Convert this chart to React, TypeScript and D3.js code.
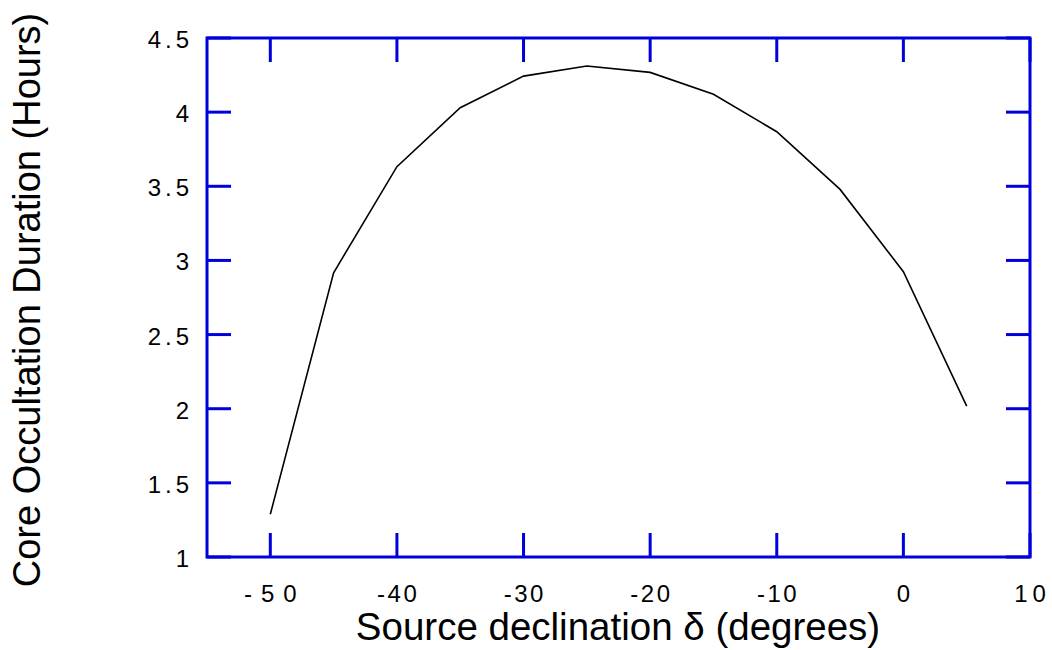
import React from "react";
import * as d3 from "d3";

const declinations = [-50, -45, -40, -35, -30, -25, -20, -15, -10, -5, 0, 5];
const durations = [1.288, 2.917, 3.632, 4.03, 4.243, 4.311, 4.268, 4.12, 3.868, 3.479, 2.924, 2.018];
const xTicks = [-50, -40, -30, -20, -10, 0, 10];
const xTickLabels = ["-50", "-40", "-30", "-20", "-10", "0", "10"];
const yTicks = [1, 1.5, 2, 2.5, 3, 3.5, 4, 4.5];
const yTickLabels = ["1", "1.5", "2", "2.5", "3", "3.5", "4", "4.5"];

const W = 1052;
const H = 650;
const left = 207, right = 1030, top = 38, bottom = 557;
const axisColor = "#0000DC";
const font = "'Liberation Sans', Arial, Helvetica, sans-serif";

export default function App() {
  const x = d3.scaleLinear().domain([-55, 10]).range([left, right]);
  const y = d3.scaleLinear().domain([1, 4.5]).range([bottom, top]);
  const line = d3
    .line<number>()
    .x((_, i) => x(declinations[i]))
    .y((d) => y(d));
  const tickLen = 24;
  const yls = 4;
  return (
    <svg
      width={W}
      height={H}
      style={{ position: "absolute", left: 0, top: 0, background: "#fff" }}
      fontFamily={font}
    >
      <rect x={0} y={0} width={W} height={H} fill="#fff" />
      <path d={line(durations) || ""} fill="none" stroke="#000" strokeWidth={1.6} />
      {/* frame */}
      <rect x={left} y={top} width={right - left} height={bottom - top} fill="none" stroke={axisColor} strokeWidth={3} />
      {/* y ticks */}
      {yTicks.map((t) => (
        <g key={"y" + t}>
          <line x1={left} x2={left + tickLen} y1={y(t)} y2={y(t)} stroke={axisColor} strokeWidth={3} />
          <line x1={right} x2={right - tickLen} y1={y(t)} y2={y(t)} stroke={axisColor} strokeWidth={3} />
        </g>
      ))}
      {/* x ticks */}
      {xTicks.map((t) => (
        <g key={"x" + t}>
          <line x1={x(t)} x2={x(t)} y1={bottom} y2={bottom - tickLen} stroke={axisColor} strokeWidth={3} />
          <line x1={x(t)} x2={x(t)} y1={top} y2={top + tickLen} stroke={axisColor} strokeWidth={3} />
        </g>
      ))}
      {/* y tick labels */}
      {yTicks.map((t, i) => (
        <text
          key={"yl" + t}
          x={189 + yls}
          y={y(t) + 10}
          textAnchor="end"
          fontSize={24}
          letterSpacing={yls}
          fill="#000"
        >
          {yTickLabels[i]}
        </text>
      ))}
      {/* x tick labels */}
      {xTicks.map((t, i) => {
        const ls = t === -50 ? 9 : t === 10 ? 5 : 2.5;
        return (
          <text
            key={"xl" + t}
            x={x(t) + ls / 2}
            y={602}
            textAnchor="middle"
            fontSize={24}
            letterSpacing={ls}
            fill="#000"
          >
            {xTickLabels[i]}
          </text>
        );
      })}
      <text x={618} y={640} textAnchor="middle" fontSize={38.5} fill="#000">
        Source declination δ (degrees)
      </text>
      <text
        transform={`translate(40, 300) rotate(-90)`}
        textAnchor="middle"
        fontSize={38}
        fill="#000"
      >
        Core Occultation Duration (Hours)
      </text>
    </svg>
  );
}
